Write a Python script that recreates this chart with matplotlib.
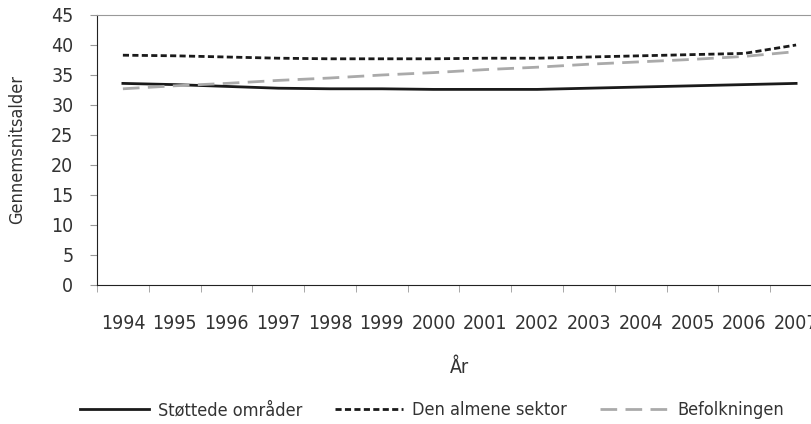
import matplotlib.pyplot as plt
import numpy as np

years = ["1994", "1995", "1996", "1997", "1998", "1999", "2000",
         "2001", "2002", "2003", "2004", "2005", "2006", "2007"]
stottede = [33.6, 33.4, 33.1, 32.8, 32.7, 32.7, 32.6, 32.6, 32.6, 32.8, 33.0, 33.2, 33.4, 33.6]
almene = [38.3, 38.2, 38.0, 37.8, 37.7, 37.7, 37.7, 37.8, 37.8, 38.0, 38.2, 38.4, 38.6, 40.0]
befolkning = [32.7, 33.2, 33.6, 34.1, 34.5, 35.0, 35.4, 35.9, 36.3, 36.8, 37.2, 37.6, 38.1, 38.9]

plt.rcParams['font.family'] = ['DejaVu Sans']
plt.rcParams['font.stretch'] = 'condensed'
plt.rcParams['font.size'] = 14
txt = '#333333'

fig = plt.figure(figsize=(8.12, 4.24), dpi=100)
ax = fig.add_axes([97/812, 1-285/424, (822-97)/812, (285-15)/424])

x = np.arange(len(years))
ax.plot(x, stottede, color='#1a1a1a', lw=2.0, label='Støttede områder')
ax.plot(x, almene, color='#1a1a1a', lw=2.0, ls=(0, (2.2, 1.2)), label='Den almene sektor')
ax.plot(x, befolkning, color='#aaaaaa', lw=2.0, ls=(0, (6, 3)), label='Befolkningen')

ax.set_xlim(-0.5, len(years) - 0.5)
ax.set_ylim(0, 45)
ax.set_yticks(range(0, 46, 5))
ax.set_xticks(x)
ax.set_xticklabels(years)
ax.set_xticks(np.arange(-0.5, len(years), 1), minor=True)
ax.tick_params(axis='x', which='major', length=0, pad=21, labelsize=14, colors=txt)
ax.tick_params(axis='x', which='minor', length=5, color='#999999')
ax.tick_params(axis='y', length=5, pad=12, color='#999999', labelsize=14, labelcolor=txt)

ax.spines['right'].set_visible(False)
ax.spines['top'].set_color('#999999')
ax.spines['left'].set_color('#222222')
ax.spines['bottom'].set_color('#222222')

ax.set_xlabel('År', fontsize=14, color=txt, labelpad=18)
fig.text(17/812, 1-150/424, 'Gennemsnitsalder', rotation=90, ha='center', va='center',
         fontsize=13, color=txt)

leg = fig.legend(loc='center left', bbox_to_anchor=(80/812, 1-410/424), ncol=3, frameon=False,
                 fontsize=13, handlelength=3.8, handletextpad=0.5, columnspacing=1.8,
                 borderpad=0, borderaxespad=0)
for t in leg.get_texts():
    t.set_color(txt)

fig.savefig('out.png', dpi=100)
